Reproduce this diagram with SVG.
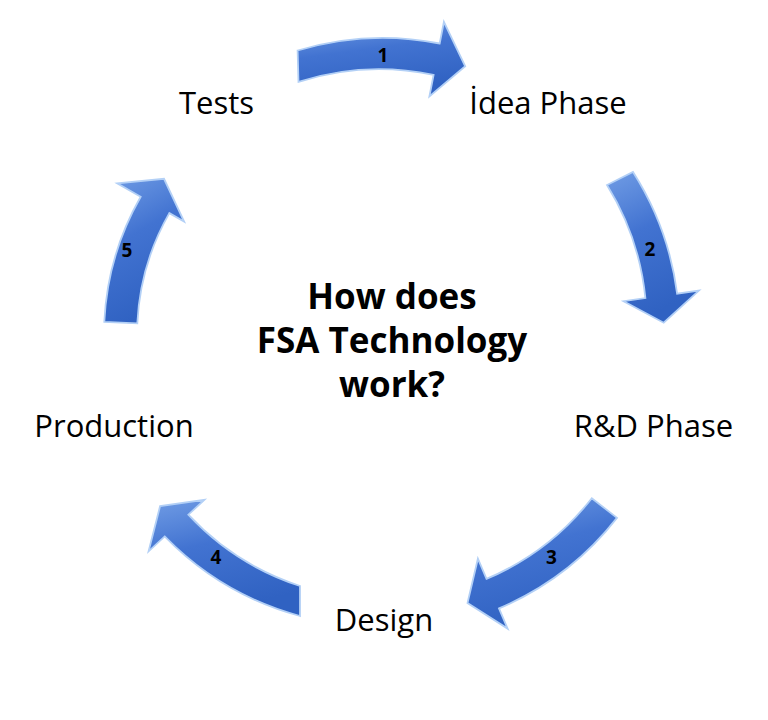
<svg xmlns="http://www.w3.org/2000/svg" width="768" height="720" viewBox="0 0 768 720">
<defs>
<linearGradient id="arrowFill" x1="0" y1="0" x2="0.3" y2="1">
<stop offset="0" stop-color="#719de5"/>
<stop offset="0.45" stop-color="#4273d1"/>
<stop offset="1" stop-color="#3062c2"/>
</linearGradient>
<style>
.arrow{fill:url(#arrowFill);stroke:#b3d0f6;stroke-width:1.8;stroke-linejoin:miter}
.lbl{font-family:"Open Sans","Noto Sans","Liberation Sans",sans-serif;font-size:31px;fill:#000;text-anchor:middle}
.title{font-family:"Open Sans","Noto Sans","Liberation Sans",sans-serif;font-size:35px;font-weight:bold;fill:#000;text-anchor:middle}
.num{font-family:"Open Sans","Noto Sans","Liberation Sans",sans-serif;font-size:19px;font-weight:bold;fill:#000;text-anchor:middle}
</style>
</defs>
<rect width="768" height="720" fill="#ffffff"/>
<g id="connectors">
<g id="arrow1">
<path class="arrow" d="M297.6,50.5 A297,297 0 0 1 439.7,43.5 L443.9,21.9 L465.2,66.3 L429.4,96.5 L433.6,74.9 A265,265 0 0 0 298.5,81.8 Z"/>
<text class="num" x="383" y="62">1</text>
</g>
<g id="arrow2">
<path class="arrow" d="M633,172 A297,297 0 0 1 677.1,293.7 L698.9,290.6 L663.7,322.7 L623.6,301.2 L645.4,298.1 A265,265 0 0 0 607,185 Z"/>
<text class="num" x="650" y="256">2</text>
</g>
<g id="arrow3">
<path class="arrow" d="M617,517.9 A297,297 0 0 1 499,608.4 L507.6,628.6 L467.5,603 L477.9,558.7 L486.5,578.9 A265,265 0 0 0 591.8,498.2 Z"/>
<text class="num" x="551.5" y="564">3</text>
</g>
<g id="arrow4">
<path class="arrow" d="M300,616 A297,297 0 0 1 164.7,536.4 L148.6,551.3 L160.1,506.1 L204.4,499.8 L188.3,514.7 A265,265 0 0 0 300,586 Z"/>
<text class="num" x="216" y="564">4</text>
</g>
<g id="arrow5">
<path class="arrow" d="M104.3,321.9 A279,279 0 0 1 140.7,196.8 L117.2,183.4 L164,178.8 L184.1,221.5 L169.3,213.1 A246,246 0 0 0 137.3,323.4 Z"/>
<text class="num" x="127" y="257">5</text>
</g>
</g>
<g id="node-tests"><text class="lbl" x="216.5" y="114">Tests</text></g>
<g id="node-idea"><text class="lbl" x="548" y="114">İdea Phase</text></g>
<g id="node-rd"><text class="lbl" x="653.5" y="437">R&amp;D Phase</text></g>
<g id="node-design"><text class="lbl" x="384" y="631">Design</text></g>
<g id="node-production"><text class="lbl" x="114" y="437">Production</text></g>
<g id="node-center">
<text class="title" x="392" y="309">How does</text>
<text class="title" x="392" y="353">FSA Technology</text>
<text class="title" x="392" y="397">work?</text>
</g>
</svg>
